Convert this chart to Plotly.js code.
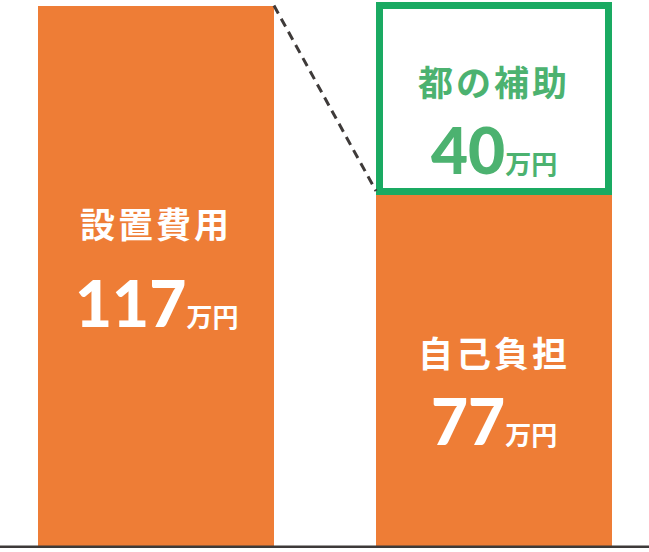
<!DOCTYPE html>
<html>
<head>
<meta charset="utf-8">
<script src="https://cdn.plot.ly/plotly-3.0.1.min.js"></script>
<style>
  html, body { margin: 0; padding: 0; background: #fff; }
  #chart { width: 649px; height: 552px; }
</style>
</head>
<body>
<div id="chart"></div>
<script>
// values in 万円
let barPos = [0, 1]
let totalCost = [117, null]      // 設置費用
let selfPay = [null, 77]         // 自己負担
let subsidy = [null, 40]         // 都の補助
let labelNames = ['設置費用', '自己負担', '都の補助']
let unit = '万円'

const orange = '#ee7d36'
const green = '#1aaa62'
const greenText = '#4cb270'
const dark = '#3e3a39'
const barW = 0.698

var traceTotal = {
  x: barPos, y: totalCost, type: 'bar', width: barW,
  marker: { color: orange, line: { width: 0 } },
  hoverinfo: 'skip'
};

var traceSelf = {
  x: barPos, y: selfPay, type: 'bar', width: barW,
  marker: { color: orange, line: { width: 0 } },
  hoverinfo: 'skip'
};

var traceSub = {
  x: barPos, y: subsidy, type: 'bar', width: barW - 7 / 338,
  marker: { color: '#ffffff', line: { color: green, width: 7 } },
  hoverinfo: 'skip'
};

// dashed connector: top of left bar -> top of own-payment part
var traceLink = {
  x: [barPos[0] + barW / 2, barPos[1] - barW / 2],
  y: [totalCost[0], selfPay[1]],
  mode: 'lines', type: 'scatter',
  line: { color: dark, width: 3, dash: '9px,6px' },
  hoverinfo: 'skip'
};

function bigNum(v) {
  return '<span style="font-family:Lato;font-weight:900;font-size:64px">' + v +
    '</span><span style="font-family:\'Noto Sans CJK JP\';font-size:26px;font-weight:700">' + unit + '</span>';
}

var nameFont = { family: 'Noto Sans CJK JP', size: 35, color: '#ffffff', weight: 700 };

let annos = [
  { x: barPos[0], y: 1 - 222 / 548, text: '<span style="letter-spacing:3px">' + labelNames[0] + '</span>', font: nameFont },
  { x: barPos[0], y: 1 - 302 / 548, text: bigNum(totalCost[0]), font: { color: '#ffffff' } },
  { x: barPos[1], y: 1 - 351 / 548, text: '<span style="letter-spacing:3px">' + labelNames[1] + '</span>', font: nameFont },
  { x: barPos[1], y: 1 - 420 / 548, text: bigNum(selfPay[1]), font: { color: '#ffffff' } },
  { x: barPos[1], y: 1 - 80 / 548, text: '<span style="letter-spacing:3px">' + labelNames[2] + '</span>',
    font: Object.assign({}, nameFont, { color: greenText }) },
  { x: barPos[1], y: 1 - 150 / 548, text: bigNum(subsidy[1]), font: { color: greenText } }
].map(a => Object.assign({ xref: 'x', yref: 'paper', showarrow: false, xanchor: 'center', yanchor: 'middle' }, a));

var layout = {
  width: 649, height: 552,
  margin: { l: 0, r: 0, t: 0, b: 4 },
  barmode: 'stack',
  showlegend: false,
  paper_bgcolor: '#ffffff', plot_bgcolor: '#ffffff',
  xaxis: { range: [-156 / 338, 493 / 338], visible: false, fixedrange: true },
  yaxis: { range: [0, 118.2], visible: false, fixedrange: true },
  annotations: annos,
  shapes: [{
    type: 'line', xref: 'paper', x0: 0, x1: 1, yref: 'y', y0: 0, y1: 0,
    line: { color: dark, width: 5 }
  }]
};

Plotly.newPlot('chart', [traceTotal, traceSelf, traceSub, traceLink], layout, { displayModeBar: false, staticPlot: true });
</script>
</body>
</html>
